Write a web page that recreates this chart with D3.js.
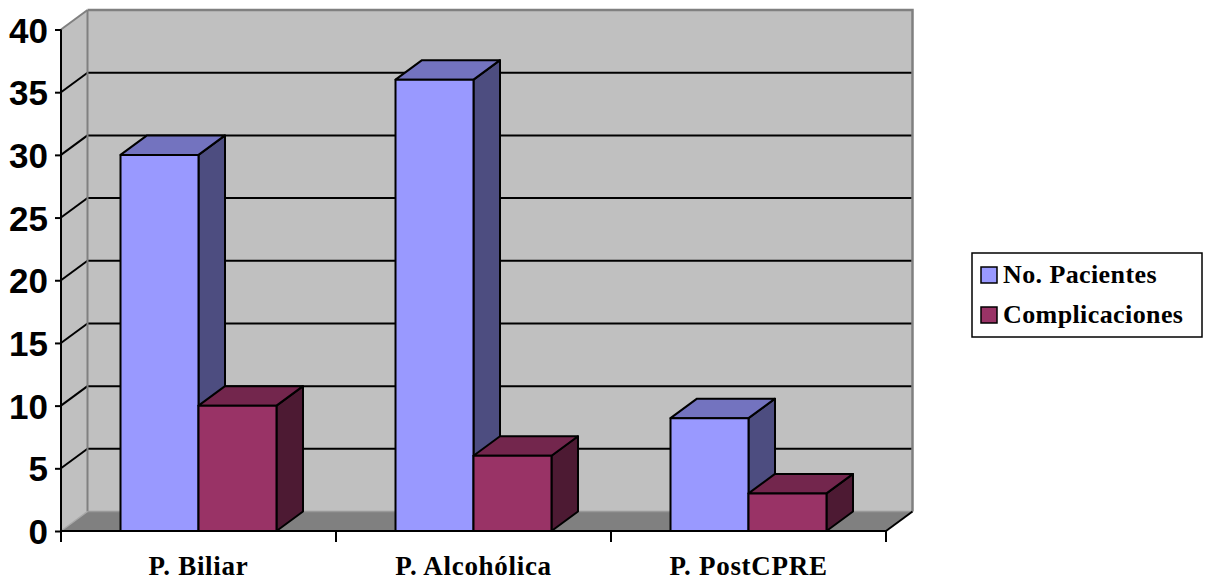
<!DOCTYPE html>
<html>
<head>
<meta charset="utf-8">
<script src="https://cdn.jsdelivr.net/npm/d3@7"></script>
<style>
  html, body { margin: 0; padding: 0; background: #fff; }
  svg { display: block; }
  .ylab text { font-family: "Liberation Sans", Arial, sans-serif; font-weight: bold; font-size: 35px; }
  .xlab text { font-family: "Liberation Serif", "Times New Roman", serif; font-weight: bold; font-size: 27px; letter-spacing: 0.7px; }
  .legend text { font-family: "Liberation Serif", "Times New Roman", serif; font-weight: bold; font-size: 26px; letter-spacing: 0.4px; }
</style>
</head>
<body>
<svg id="chart" width="1210" height="581"></svg>
<script>
// Pancreatitis types: patients and complications
const categories = ["P. Biliar", "P. Alcohólica", "P. PostCPRE"];
const seriesNames = ["No. Pacientes", "Complicaciones"];
const pacientes = [30, 36, 9];
const complicaciones = [10, 6, 3];
const yTicks = [0, 5, 10, 15, 20, 25, 30, 35, 40];

const colors = {
  "No. Pacientes": { front: "#9999FF", top: "#7373BF", side: "#4D4D80" },
  "Complicaciones": { front: "#993366", top: "#73264D", side: "#4D1A33" }
};

const svg = d3.select("#chart");

// front plane of the plot and depth offset of the 3D box
const pL = 61, pR = 886, pB = 531, pT = 29.5;
const ddx = 26.5, ddy = -19.5;

const y = d3.scaleLinear().domain([0, 40]).range([pB, pT]);
const x0 = d3.scaleBand().domain(categories).range([pL, pR]).padding(0);
const x1 = d3.scaleBand().domain(seriesNames).range([0, x0.bandwidth()])
  .paddingInner(0).paddingOuter(0.763);

const poly = pts => pts.map(p => p.join(",")).join(" ");

// side wall (left)
svg.append("polygon")
  .attr("points", poly([[pL, pB], [pL + ddx, pB + ddy], [pL + ddx, pT + ddy], [pL, pT]]))
  .attr("fill", "#C0C0C0");
// back wall
svg.append("rect")
  .attr("x", pL + ddx).attr("y", pT + ddy)
  .attr("width", pR - pL).attr("height", pB - pT)
  .attr("fill", "#C0C0C0");

// gridlines on the back wall and the side wall
const grid = svg.append("g");
yTicks.filter(v => v > 0 && v < 40).forEach(v => {
  grid.append("line")
    .attr("x1", pL + ddx).attr("x2", pR + ddx)
    .attr("y1", y(v) + ddy).attr("y2", y(v) + ddy)
    .attr("stroke", "#000").attr("stroke-width", 2);
});
yTicks.filter(v => v > 0).forEach(v => {
  grid.append("line")
    .attr("x1", pL).attr("x2", pL + ddx)
    .attr("y1", y(v)).attr("y2", y(v) + ddy)
    .attr("stroke", v === 40 ? "#808080" : "#000").attr("stroke-width", 2);
});

// wall outlines
svg.append("polyline")
  .attr("points", poly([[pL + ddx, pT + ddy], [pR + ddx, pT + ddy], [pR + ddx, pB + ddy]]))
  .attr("fill", "none").attr("stroke", "#808080").attr("stroke-width", 2.5);
svg.append("line")
  .attr("x1", pL + ddx).attr("x2", pL + ddx)
  .attr("y1", pT + ddy).attr("y2", pB + ddy)
  .attr("stroke", "#808080").attr("stroke-width", 2);

// floor
svg.append("polygon")
  .attr("points", poly([[pL, pB], [pR, pB], [pR + ddx, pB + ddy], [pL + ddx, pB + ddy]]))
  .attr("fill", "#808080");
svg.append("line")
  .attr("x1", pL + ddx).attr("x2", pR + ddx)
  .attr("y1", pB + ddy).attr("y2", pB + ddy)
  .attr("stroke", "#999999").attr("stroke-width", 1.5);
svg.append("line")
  .attr("x1", pL).attr("x2", pL + ddx)
  .attr("y1", pB).attr("y2", pB + ddy)
  .attr("stroke", "#A8A8A8").attr("stroke-width", 1.5);
svg.append("line")
  .attr("x1", pR).attr("x2", pR + ddx)
  .attr("y1", pB).attr("y2", pB + ddy)
  .attr("stroke", "#000").attr("stroke-width", 2);

// bars as boxes spanning the full depth
const rows = categories.map((c, i) => ({ cat: c, values: [
  { name: seriesNames[0], value: pacientes[i] },
  { name: seriesNames[1], value: complicaciones[i] }
]}));

const barsG = svg.append("g");
rows.forEach(r => {
  r.values.forEach(d => {
    const xl = x0(r.cat) + x1(d.name);
    const xr = xl + x1.bandwidth();
    const yt = y(d.value), yb = y(0);
    const col = colors[d.name];
    const g = barsG.append("g").attr("stroke", "#000").attr("stroke-width", 2).attr("stroke-linejoin", "round");
    g.append("polygon")
      .attr("points", poly([[xr, yb], [xr + ddx, yb + ddy], [xr + ddx, yt + ddy], [xr, yt]]))
      .attr("fill", col.side);
    g.append("polygon")
      .attr("points", poly([[xl, yt], [xr, yt], [xr + ddx, yt + ddy], [xl + ddx, yt + ddy]]))
      .attr("fill", col.top);
    g.append("rect")
      .attr("x", xl).attr("y", yt)
      .attr("width", xr - xl).attr("height", yb - yt)
      .attr("fill", col.front);
  });
});

// y axis
const yAxis = svg.append("g").attr("class", "ylab")
  .attr("transform", `translate(${pL},0)`)
  .call(d3.axisLeft(y).tickValues(yTicks).tickSize(6).tickPadding(7).tickFormat(d3.format("d")));
yAxis.select(".domain").attr("stroke", "#000").attr("stroke-width", 2).attr("d", `M0,${pT}V${pB}`);
yAxis.selectAll(".tick line").attr("stroke", "#000").attr("stroke-width", 2);
yAxis.selectAll(".tick text").attr("fill", "#000").attr("dy", "0.36em");

// x axis
const xAxis = svg.append("g").attr("class", "xlab")
  .attr("transform", `translate(0,${pB})`)
  .call(d3.axisBottom(x0).tickSize(0).tickPadding(25));
xAxis.select(".domain").attr("stroke", "#000").attr("stroke-width", 2).attr("d", `M${pL},0H${pR}`);
xAxis.selectAll(".tick text").attr("fill", "#000").attr("dy", "0.71em");
const bounds = categories.map(c => x0(c)).concat([x0(categories[categories.length - 1]) + x0.bandwidth()]);
xAxis.selectAll("line.bound").data(bounds).enter().append("line")
  .attr("class", "bound")
  .attr("x1", d => d).attr("x2", d => d)
  .attr("y1", 0).attr("y2", 11)
  .attr("stroke", "#000").attr("stroke-width", 2);

// legend
const legend = svg.append("g").attr("class", "legend").attr("transform", "translate(972,253)");
legend.append("rect").attr("width", 230).attr("height", 84)
  .attr("fill", "#fff").attr("stroke", "#000").attr("stroke-width", 1.5);
seriesNames.forEach((s, i) => {
  const gy = 14 + i * 40;
  legend.append("rect").attr("x", 9).attr("y", gy).attr("width", 16).attr("height", 16)
    .attr("fill", colors[s].front).attr("stroke", "#000").attr("stroke-width", 1.5);
  legend.append("text").attr("x", 31).attr("y", gy + 16).attr("fill", "#000").text(s);
});
</script>
</body>
</html>
